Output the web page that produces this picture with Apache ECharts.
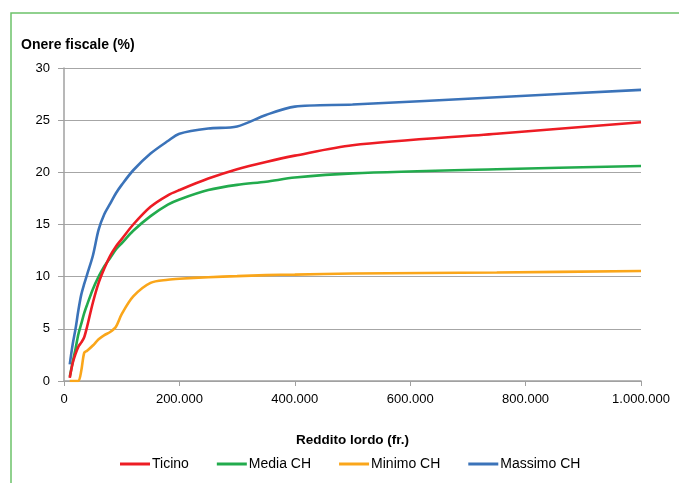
<!DOCTYPE html>
<html><head><meta charset="utf-8">
<script src="https://cdn.jsdelivr.net/npm/echarts@6/dist/echarts.min.js"></script>
<style>html,body{margin:0;padding:0;background:#fff}#c{width:679px;height:483px}</style>
</head><body><div id="c"></div>
<script>
const incomes = [10000,15000,20000,25000,30000,35000,40000,50000,60000,70000,80000,90000,100000,120000,150000,180000,200000,250000,300000,350000,400000,500000,750000,1000000];
const ticino  = [0.3,1.7,2.6,3.3,3.7,4.2,5.2,7.5,9.4,10.8,12.0,12.9,13.6,15.0,16.7,17.8,18.3,19.4,20.3,21.0,21.6,22.6,23.7,24.8];
const mediaCH = [0.4,1.8,3.1,4.5,5.5,6.5,7.3,8.8,10.0,11.0,11.8,12.6,13.2,14.4,15.8,16.9,17.4,18.3,18.8,19.1,19.5,19.9,20.3,20.6];
const minimoCH= [0,0,0,0,1.0,2.7,2.9,3.4,4.0,4.4,4.7,5.2,6.4,8.1,9.4,9.7,9.8,9.95,10.05,10.15,10.2,10.3,10.4,10.55];
const massimoCH=[1.6,3.5,5.0,6.8,8.3,9.3,10.2,12.0,14.5,16.0,17.0,18.0,18.8,20.2,21.8,23.0,23.7,24.2,24.4,25.5,26.3,26.5,27.2,27.9];
const seriesNames = ['Ticino','Media CH','Minimo CH','Massimo CH'];
const colors = ['#ed1c24','#22ab4d','#faa61a','#3b73b9'];
const allData = [ticino, mediaCH, minimoCH, massimoCH];

const FONT = '"Liberation Sans", Arial, sans-serif';
const chart = echarts.init(document.getElementById('c'));
const fmt = v => String(v).replace(/\B(?=(\d{3})+(?!\d))/g, '.');
chart.setOption({
  animation:false,
  graphic:[{type:'rect',shape:{x:11,y:13,width:720,height:520},style:{fill:'none',stroke:'#6cc26a',lineWidth:1.5},silent:true},
           {type:'text',left:21,top:38,style:{text:'Onere fiscale (%)',font:'bold 14px "Liberation Sans", Arial, sans-serif',fill:'#000'}}],
  grid:{left:64,right:38,top:68,bottom:102},
  legend:{bottom:7,left:115,itemWidth:30,itemHeight:3,itemGap:28,icon:'rect',
    textStyle:{fontFamily:FONT,fontSize:14,color:'#000',padding:[0,0,0,-3]},
    data:seriesNames},
  xAxis:{type:'value',min:0,max:1000000,interval:200000,
    name:'Reddito lordo (fr.)',nameLocation:'middle',nameGap:52,
    nameTextStyle:{fontFamily:FONT,fontSize:13.5,fontWeight:'bold',color:'#000'},
    axisLine:{lineStyle:{color:'#a0a0a0',width:1.5}},
    axisTick:{show:true,length:5,lineStyle:{color:'#a0a0a0'}},
    splitLine:{show:false},
    axisLabel:{formatter:fmt,fontFamily:FONT,fontSize:13,color:'#000',margin:12}},
  yAxis:{type:'value',min:0,max:30,interval:5,
    axisLine:{show:true,lineStyle:{color:'#a0a0a0',width:1.5}},
    axisTick:{show:true,length:6,lineStyle:{color:'#a0a0a0'}},
    splitLine:{lineStyle:{color:'#a6a6a6',width:1.2}},
    axisLabel:{fontFamily:FONT,fontSize:13,color:'#000',margin:14}},
  series: allData.map((d,i)=>({
    name:seriesNames[i],type:'line',smooth:0.3,showSymbol:false,
    data:incomes.map((x,j)=>[x,d[j]]),
    lineStyle:{color:colors[i],width:2.6},itemStyle:{color:colors[i]},z:10-i
  }))
});
</script></body></html>
